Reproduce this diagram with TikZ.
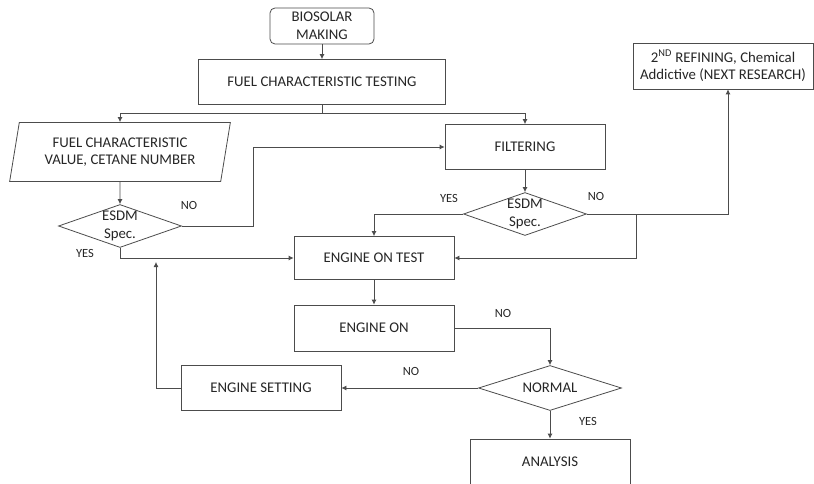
\documentclass[tikz,border=0pt]{standalone}
\usepackage{fontspec}
\setmainfont{Carlito}
\usetikzlibrary{shapes.geometric,arrows.meta}

\begin{document}
\begin{tikzpicture}[x=1pt, y=-1pt, line width=0.8pt, draw=black!70,
    >={Latex[length=5pt,width=5pt]},
    every node/.style={font=\fontsize{14.8}{17.5}\selectfont, text=black!85, align=center, inner sep=0pt},
    box/.style={rectangle, draw=black!70, fill=white},
    dia/.style={diamond, draw=black!70, fill=white, aspect=2.8, minimum width=123pt, minimum height=43pt},
    para/.style={trapezium, trapezium left angle=76, trapezium right angle=104, trapezium stretches=true,
        draw=black!70, fill=white, minimum width=221pt, minimum height=59pt},
    lbl/.style={font=\fontsize{12.5}{14}\selectfont}]
    \useasboundingbox (0,0) rectangle (814,484);
    \node[box, rounded corners=5pt, minimum width=104pt, minimum height=36pt] (make) at (322,26) {BIOSOLAR\\MAKING};
    \node[box, minimum width=247pt, minimum height=45pt] (test) at (322,82) {FUEL CHARACTERISTIC TESTING};
    \node[para] (value) at (120,152) {FUEL CHARACTERISTIC\\VALUE, CETANE NUMBER};
    \node[dia] (spec1) at (120,226) {ESDM\\Spec.};
    \node[box, minimum width=160pt, minimum height=45pt] (filter) at (525,147) {FILTERING};
    \node[dia] (spec2) at (525,214) {ESDM\\Spec.};
    \node[box, minimum width=180pt, minimum height=46pt] (refine) at (723,66) {2\textsuperscript{ND} REFINING, Chemical\\Addictive (NEXT RESEARCH)};
    \node[box, minimum width=160pt, minimum height=43pt] (ontest) at (374,258) {ENGINE ON TEST};
    \node[box, minimum width=160pt, minimum height=46pt] (engon) at (374,328) {ENGINE ON};
    \node[dia, minimum width=143pt, minimum height=45pt] (normal) at (550,388) {NORMAL};
    \node[box, minimum width=160pt, minimum height=45pt] (setting) at (261,388) {ENGINE SETTING};
    \node[box, minimum width=160pt, minimum height=46pt] (analysis) at (550,462) {ANALYSIS};
    \coordinate (back) at (156,262);
    % yes / no labels
    \node[lbl] (no1) at (189,205) {NO};
    \node[lbl] (yes1) at (85,253) {YES};
    \node[lbl] (yes2) at (449,198) {YES};
    \node[lbl] (no2) at (596,196) {NO};
    \node[lbl] (no3) at (503,313) {NO};
    \node[lbl] (no4) at (411,371) {NO};
    \node[lbl] (yes3) at (588,421) {YES};
    % connectors
    \draw[->] (make) -- (test);
    \draw[->] (test.south) -- ++(0,9) -| (value.north);
    \draw[->] (test.south) -- ++(0,9) -| (filter.north);
    \draw[->] (value) -- (spec1);
    \draw[->] (spec1.east) -- ++(71,0) |- (filter.west);
    \draw[->] (spec1.south) |- (ontest.west);
    \draw[->] (filter) -- (spec2);
    \draw[->] (spec2.west) -| (ontest.north);
    \draw[->] (spec2.east) -| ([xshift=5pt]refine.south);
    \draw[->] (spec2.east) -- ++(49,0) |- (ontest.east);
    \draw[->] (ontest) -- (engon);
    \draw[->] (engon.east) -| (normal.north);
    \draw[->] (normal.west) -- (setting.east);
    \draw[->] (normal) -- (analysis);
    \draw[->] (setting.west) -| (back);
\end{tikzpicture}
\end{document}
